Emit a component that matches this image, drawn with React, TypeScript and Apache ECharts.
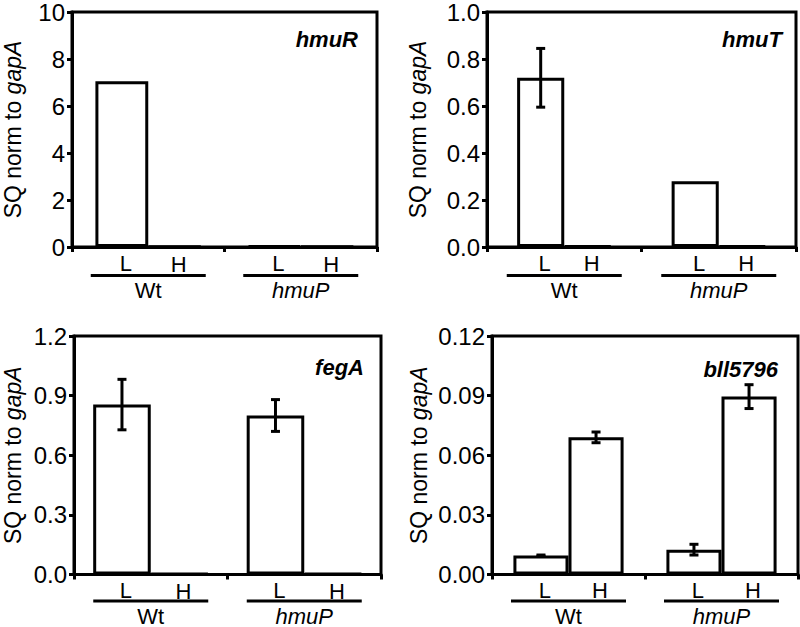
import React, { useEffect, useRef } from "react";
import * as echarts from "echarts";

// ---- data ----
const categories = ["Wt", "hmuP"];
const barLabels = ["L", "H"];

const hmuRLow = [7.05, 0.05];
const hmuRHigh = [0.02, 0.02];
const hmuRLowErr = [0, 0];
const hmuRHighErr = [0, 0];

const hmuTLow = [0.72, 0.28];
const hmuTHigh = [0.005, 0.005];
const hmuTLowErr = [0.125, 0];
const hmuTHighErr = [0, 0];

const fegALow = [0.855, 0.8];
const fegAHigh = [0.004, 0.004];
const fegALowErr = [0.127, 0.08];
const fegAHighErr = [0, 0];

const bllLow = [0.0095, 0.0125];
const bllHigh = [0.069, 0.0895];
const bllLowErr = [0.0003, 0.0027];
const bllHighErr = [0.0027, 0.006];

const hmuRTicks = { max: 10, interval: 2, decimals: 0 };
const hmuTTicks = { max: 1.0, interval: 0.2, decimals: 1 };
const fegATicks = { max: 1.2, interval: 0.3, decimals: 1 };
const bllTicks = { max: 0.12, interval: 0.03, decimals: 2 };

const FONT = "'Liberation Sans', Arial, Helvetica, sans-serif";

const panels = [
  { gene: "hmuR", low: hmuRLow, high: hmuRHigh, lowErr: hmuRLowErr, highErr: hmuRHighErr, ticks: hmuRTicks,
    grid: { left: 71, top: 7, width: 306, height: 240 }, gap: 0.307, nameGap: 48, title: { right: 437, top: 23 }, axMargin: 27 },
  { gene: "hmuT", low: hmuTLow, high: hmuTHigh, lowErr: hmuTLowErr, highErr: hmuTHighErr, ticks: hmuTTicks,
    grid: { left: 487, top: 7, width: 309, height: 240 }, gap: 0.39, nameGap: 58, title: { right: 13, top: 23 }, axMargin: 27 },
  { gene: "fegA", low: fegALow, high: fegAHigh, lowErr: fegALowErr, highErr: fegAHighErr, ticks: fegATicks,
    grid: { left: 71, top: 336, width: 310, height: 242 }, gap: 0.25, nameGap: 50, title: { right: 431, top: 351 }, axMargin: 25 },
  { gene: "bll5796", low: bllLow, high: bllHigh, lowErr: bllLowErr, highErr: bllHighErr, ticks: bllTicks,
    grid: { left: 492, top: 336, width: 306, height: 242 }, gap: 0.28, nameGap: 62, title: { right: 17, top: 353 }, axMargin: 25 },
];

export default function App() {
  const ref = useRef<HTMLDivElement>(null);
  useEffect(() => {
    if (!ref.current) return;
    const chart = echarts.init(ref.current, null, { renderer: "svg" });

    const grid: any[] = [];
    const xAxis: any[] = [];
    const yAxis: any[] = [];
    const series: any[] = [];
    const title: any[] = [];

    panels.forEach((p, gi) => {
      grid.push({
        ...p.grid,
        show: true,
        borderColor: "#000",
        borderWidth: 3,
        backgroundColor: "transparent",
        containLabel: false,
      });
      xAxis.push({
        type: "category",
        gridIndex: gi,
        data: categories,
        axisLine: { show: true, lineStyle: { color: "#000", width: 3 } },
        axisTick: { show: true, length: 5, lineStyle: { color: "#000", width: 3 } },
        axisLabel: {
          margin: p.axMargin,
          interval: 0,
          formatter: (v: string) => `{u| }\n{${v === "hmuP" ? "i" : "n"}|${v}}`,
          rich: {
            u: { width: 115, height: 3, lineHeight: 3, backgroundColor: "#000", fontSize: 1 },
            n: { fontSize: 22, lineHeight: 27, color: "#000", fontFamily: FONT },
            i: { fontSize: 22, lineHeight: 27, color: "#000", fontFamily: FONT, fontStyle: "italic" },
          },
        },
      });
      yAxis.push({
        type: "value",
        gridIndex: gi,
        min: 0,
        max: p.ticks.max,
        interval: p.ticks.interval,
        splitLine: { show: false },
        axisLine: { show: true, lineStyle: { color: "#000", width: 3 } },
        axisTick: { show: true, length: 5, lineStyle: { color: "#000", width: 3 } },
        axisLabel: {
          margin: 7,
          color: "#000",
          fontSize: 24,
          fontFamily: FONT,
          formatter: (v: number) => v.toFixed(p.ticks.decimals),
        },
        name: "{n|SQ norm to }{i|gapA}",
        nameLocation: "middle",
        nameGap: p.nameGap,
        nameTextStyle: {
          rich: {
            n: { fontSize: 23, color: "#000", fontFamily: FONT },
            i: { fontSize: 23, color: "#000", fontFamily: FONT, fontStyle: "italic" },
          },
        },
      });
      title.push({
        text: p.gene,
        right: p.title.right,
        top: p.title.top,
        textStyle: { fontSize: 22, fontWeight: "bold", fontStyle: "italic", color: "#000", fontFamily: FONT },
      });

      const sides = [
        { name: barLabels[0], vals: p.low, errs: p.lowErr, side: -1 },
        { name: barLabels[1], vals: p.high, errs: p.highErr, side: 1 },
      ];
      sides.forEach((s) => {
        series.push({
          type: "bar",
          name: s.name,
          xAxisIndex: gi,
          yAxisIndex: gi,
          data: s.vals,
          barGap: "0%",
          barCategoryGap: `${(p.gap * 100).toFixed(1)}%`,
          itemStyle: { color: "#fff", borderColor: "#000", borderWidth: 3 },
          label: {
            show: true,
            position: "bottom",
            distance: 5,
            offset: [4, 0],
            formatter: s.name,
            fontSize: 22,
            color: "#000",
            fontFamily: FONT,
          },
          silent: true,
        });
      });
      sides.forEach((s) => {
        const data = s.vals
          .map((v, i) => [i, v, s.errs[i]])
          .filter((d) => d[2] > 0);
        if (!data.length) return;
        series.push({
          type: "custom",
          xAxisIndex: gi,
          yAxisIndex: gi,
          z: 5,
          data,
          renderItem: (params: any, api: any) => {
            const idx = api.value(0);
            const v = api.value(1);
            const e = api.value(2);
            const band = api.size([1, 0])[0];
            const off = (s.side * band * (1 - p.gap)) / 4;
            const top = api.coord([idx, v + e]);
            const bot = api.coord([idx, v - e]);
            const x = top[0] + off;
            const cap = 4.5;
            const st = { stroke: "#000", lineWidth: 3 };
            return {
              type: "group",
              children: [
                { type: "line", shape: { x1: x, y1: top[1], x2: x, y2: bot[1] }, style: st },
                { type: "line", shape: { x1: x - cap, y1: top[1], x2: x + cap, y2: top[1] }, style: st },
                { type: "line", shape: { x1: x - cap, y1: bot[1], x2: x + cap, y2: bot[1] }, style: st },
              ],
            };
          },
        });
      });
    });

    chart.setOption({
      animation: false,
      backgroundColor: "#fff",
      textStyle: { fontFamily: FONT },
      title,
      grid,
      xAxis,
      yAxis,
      series,
    });
    return () => chart.dispose();
  }, []);

  return (
    <div
      ref={ref}
      style={{ position: "absolute", left: 0, top: 0, width: 800, height: 627 }}
    />
  );
}
